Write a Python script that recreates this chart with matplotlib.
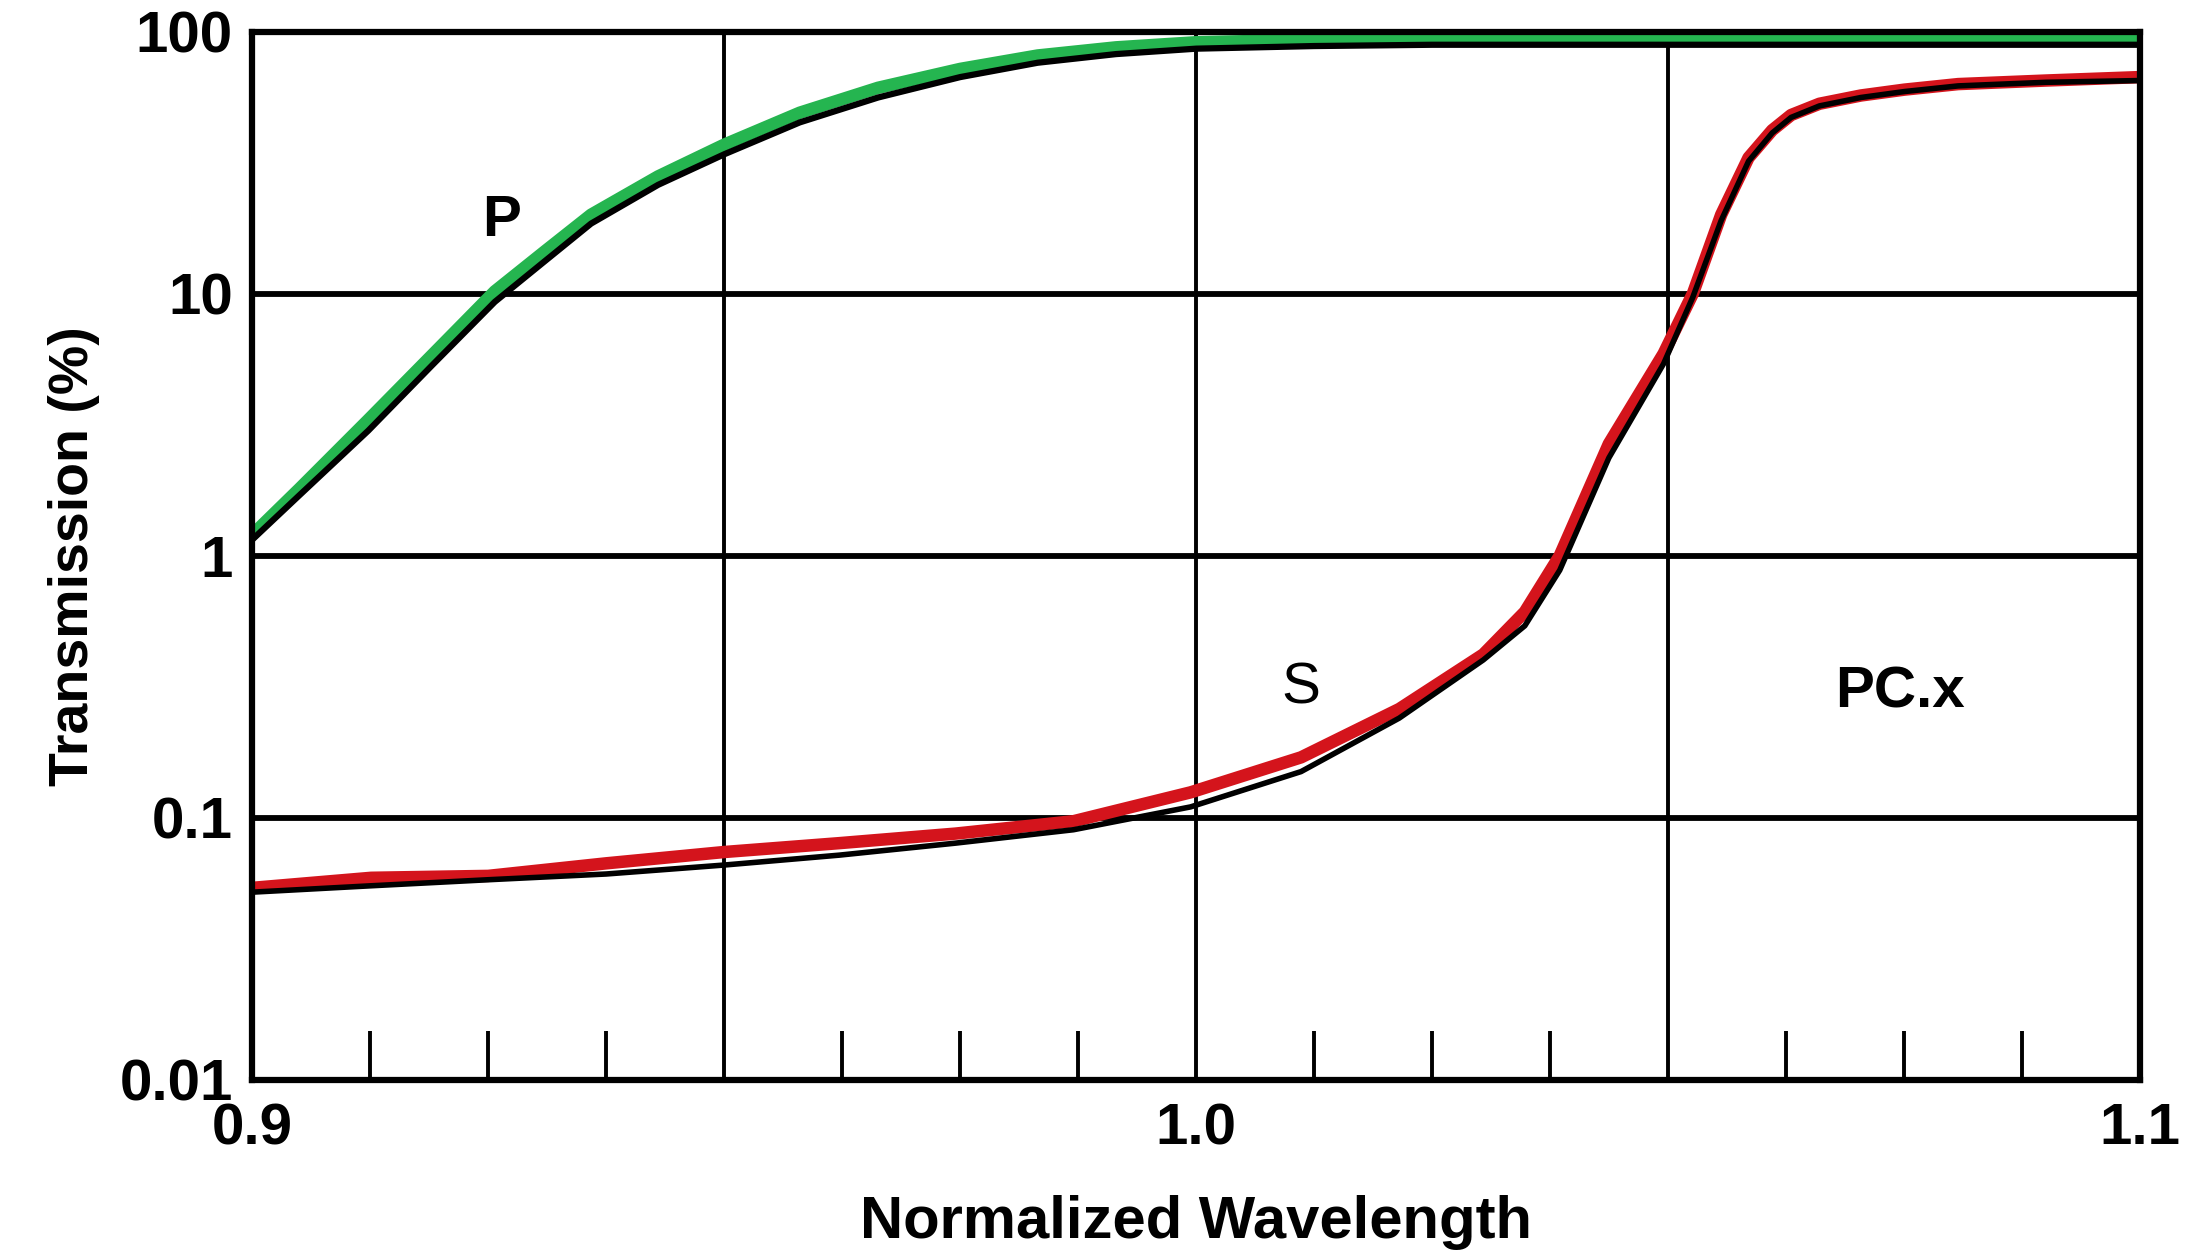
import matplotlib
matplotlib.use('Agg')
import matplotlib.pyplot as plt
from matplotlib.ticker import FixedLocator, NullLocator

plt.rcParams['font.family'] = ['Liberation Sans', 'DejaVu Sans']

# P polarisation: measured (green) and model (black)
p_x = [0.900, 0.905, 0.9123, 0.919, 0.9257, 0.931, 0.9359, 0.943, 0.950, 0.958,
       0.9663, 0.975, 0.9832, 0.9915, 1.000, 1.0125, 1.025, 1.050, 1.075, 1.100]
p_meas = [1.2, 1.8, 3.3, 5.8, 10.2, 14.5, 20, 28, 37, 49,
          61, 72, 81, 87, 91, 93, 94, 94, 94, 94]
p_model = [1.15, 1.7, 3.0, 5.3, 9.3, 13.3, 18.5, 26, 34, 45,
           56, 67, 76, 82, 86, 88, 89, 89, 89, 89]

# S polarisation: measured (red) and model (black)
s_x = [0.900, 0.9126, 0.925, 0.9375, 0.950, 0.9622, 0.9745, 0.9870, 0.9994, 1.0111,
       1.0215, 1.0304, 1.0348, 1.0385, 1.0437, 1.0495, 1.0526, 1.0556, 1.0585, 1.061,
       1.063, 1.066, 1.0704, 1.075, 1.0807, 1.090, 1.100]
s_meas = [0.054, 0.059, 0.060, 0.067, 0.074, 0.080, 0.087, 0.097, 0.125, 0.17,
          0.26, 0.42, 0.61, 1.0, 2.67, 5.9, 10, 20, 33, 42,
          48, 53, 57, 60, 63, 65, 67]
s_model = [0.052, 0.055, 0.058, 0.061, 0.066, 0.072, 0.080, 0.090, 0.11, 0.15,
           0.24, 0.40, 0.54, 0.88, 2.36, 5.4, 9.7, 19, 32, 41,
           47, 52, 56, 59, 62, 64, 65]

y_ticks = [0.01, 0.1, 1, 10, 100]
y_labels = ['0.01', '0.1', '1', '10', '100']
x_ticks = [0.9, 1.0, 1.1]
x_labels = ['0.9', '1.0', '1.1']
x_grid = [0.95, 1.0, 1.05]
x_minor = [0.9125, 0.925, 0.9375, 0.9625, 0.975, 0.9875,
           1.0125, 1.025, 1.0375, 1.0625, 1.075, 1.0875]

fig = plt.figure(figsize=(21.93, 12.6), dpi=100)
ax = fig.add_axes([0.115, 0.143, 0.861, 0.832])

ax.set_yscale('log')
ax.set_xlim(0.9, 1.1)
ax.set_ylim(0.01, 100)

# grid
for yv in [0.1, 1, 10]:
    ax.axhline(yv, color='black', lw=4.2, zorder=1)
for xv in x_grid:
    ax.axvline(xv, color='black', lw=2.8, zorder=1)

# curves
ax.plot(p_x, p_meas, color='#25b550', lw=9, solid_capstyle='round',
        solid_joinstyle='round', zorder=3)
ax.plot(p_x, p_model, color='black', lw=4.5, solid_joinstyle='round', zorder=4)
ax.plot(s_x, s_meas, color='#d4141c', lw=9, solid_capstyle='round',
        solid_joinstyle='round', zorder=3)
ax.plot(s_x, s_model, color='black', lw=4, solid_joinstyle='round', zorder=4)

# annotations
ax.text(0.9264, 19, 'P', fontsize=42, fontweight='bold', ha='center', va='center')
ax.text(1.0111, 0.31, 'S', fontsize=42, ha='center', va='center')
ax.text(1.0745, 0.30, 'PC.x', fontsize=42, fontweight='bold', ha='center', va='center')

# axes styling
for s in ax.spines.values():
    s.set_linewidth(4.5)
    s.set_color('black')
    s.set_zorder(5)

ax.yaxis.set_major_locator(FixedLocator(y_ticks))
ax.set_yticklabels(y_labels)
ax.yaxis.set_minor_locator(NullLocator())
ax.xaxis.set_major_locator(FixedLocator(x_ticks))
ax.set_xticklabels(x_labels)
ax.xaxis.set_minor_locator(FixedLocator(x_minor))

ax.tick_params(axis='both', which='major', length=0, labelsize=42)
ax.tick_params(axis='y', which='major', pad=14)
ax.tick_params(axis='x', which='major', pad=16)
ax.tick_params(axis='x', which='minor', direction='in', length=35, width=2.8)
for lab in ax.get_xticklabels() + ax.get_yticklabels():
    lab.set_fontweight('bold')
# first x label sits a bit right of the axis in the original
ax.get_xticklabels()[0].set_x(0.9022)

ax.set_xlabel('Normalized Wavelength', fontsize=43, fontweight='bold', labelpad=28)
ax.set_ylabel('Transmission (%)', fontsize=40, fontweight='bold', labelpad=14)

fig.savefig('out.png', dpi=100)
